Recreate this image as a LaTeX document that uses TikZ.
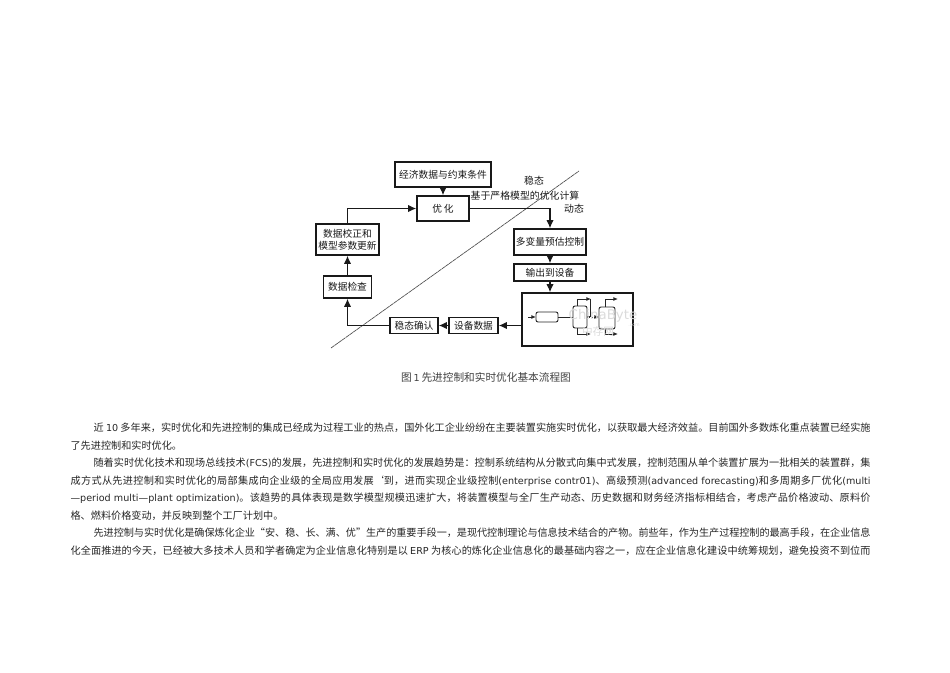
\documentclass[tikz,border=0pt]{standalone}
\usepackage{fontspec}
\usetikzlibrary{arrows.meta}
\setmainfont{Noto Sans CJK SC}
\newfontfamily\latinfont{DejaVu Sans}
\newcommand{\lat}[1]{{\latinfont\fontsize{7.2}{9}\selectfont #1}}
\newcommand{\fullpar}[1]{\parfillskip=0pt #1\par}
\XeTeXlinebreaklocale "zh"
\XeTeXlinebreakskip=0pt plus 2pt minus 0.15pt
\begin{document}
\begin{tikzpicture}[x=0.75pt, y=-0.75pt, line width=0.9pt,
    box/.style={draw=black!90, line width=1.2pt, inner sep=0, align=center, font=\fontsize{7.3}{9}\selectfont\color{black!90}},
    sized/.style 2 args={minimum width=#1*0.75pt, minimum height=#2*0.75pt},
    conn/.style={draw=black!90, -{Latex[length=6pt,width=5.5pt]}},
    plant line/.style={draw=black!85, line width=0.7pt},
    small tip/.style={-{Latex[length=3.5pt,width=3pt]}},
    state label/.style={inner sep=0, font=\fontsize{7.4}{9}\selectfont\color{black!90}},
    full line/.style={anchor=west, inner sep=0, text width=800*0.75pt, align=justify, font=\fontsize{7.6}{10}\selectfont\color{black!85}},
    first line/.style={full line, text width=777*0.75pt},
    short line/.style={anchor=west, inner sep=0, font=\fontsize{7.6}{10}\selectfont\color{black!85}},
    mark text/.style={inner sep=0, text=black!14}
  ]
  \useasboundingbox (0,0) rectangle (950,672);

  \path [draw=black!70, line width=0.5pt, dash pattern=on 3pt off 0.4pt] (331,348) coordinate (dl) -- (579,171) coordinate (dr);

  \node [box, sized={96}{25}] (econ) at (443,174.5) {经济数据与约束条件};
  \node [box, sized={52}{25}] (opt) at (443,208.5) {优\,化};
  \node [box, sized={63}{31}] (rectify) at (347.5,239.5) {数据校正和\\模型参数更新};
  \node [box, sized={48}{22}] (check) at (347.5,287) {数据检查};
  \node [box, sized={48}{16}] (confirm) at (414,325.5) {稳态确认};
  \node [box, sized={49}{16}] (data) at (473.5,325.5) {设备数据};
  \node [box, sized={72}{26}] (mpc) at (550,242) {多变量预估控制};
  \node [box, sized={72}{17}] (output) at (550,272.5) {输出到设备};
  \node [box, sized={111}{53}] (plant) at (577.5,319.5) {};

  \node [state label] (steady) at (534,181) {稳态};
  \node [state label] (calc) at (525,196) {基于严格模型的优化计算};
  \node [state label] (dynamic) at (574,209) {动态};

  \path [conn] (econ) -- (opt);
  \path [conn] (opt) -| (mpc);
  \path [conn] (rectify) |- (opt);
  \path [conn] (check) -- (rectify);
  \path [conn] (confirm) -| (check);
  \path [conn] (data) -- (confirm);
  \path [conn] (plant.west |- data) -- (data);
  \path [conn] (mpc) -- (output);
  \path [conn] (output) -- (output |- plant.north);

  \begin{scope}[every path/.style={plant line}]
    \path [small tip] (528,317) -- (536,317);
    \path [rounded corners=1.5pt] (536,312) rectangle (558,322);
    \path (558,317) -- (573,317);
    \path [rounded corners=1.5pt] (573,306) rectangle (587,328);
    \path [rounded corners=1.5pt] (599,307) rectangle (615,329);
    \path [small tip] (577,306) |- (591,299);
    \path [small tip] (577,328) |- (591,334);
    \path (587,316) -- (590,316) -- (590,299);
    \path [small tip, densely dotted] (587,317) -- (599,317);
    \path [small tip] (605,307) |- (618,299);
    \path [small tip] (605,329) |- (618,334);
  \end{scope}

  \node [mark text, font=\latinfont\fontsize{10}{12}\selectfont] (mark) at (603,316) {ChinaByte};
  \node [mark text, font=\fontsize{8}{10}\selectfont] (markcn) at (598,331) {中存网};
  \node [mark text, font=\latinfont\fontsize{3.5}{4}\selectfont] (markcom) at (634,325) {.com};

  \node [inner sep=0, font=\fontsize{8}{10}\selectfont\color{black!75}] (caption) at (486,377) {图\,\lat{1}\,先进控制和实时优化基本流程图};

  \node [first line] (l1) at (93,428) {\fullpar{近 \lat{10} 多年来，实时优化和先进控制的集成已经成为过程工业的热点，国外化工企业纷纷在主要装置实施实时优化，以获取最大经济效益。目前国外多数炼化重点装置已经实施}};
  \node [short line] (l2) at (70,446) {了先进控制和实时优化。};
  \node [first line] (l3) at (93,463) {\fullpar{随着实时优化技术和现场总线技术\lat{(FCS)}的发展，先进控制和实时优化的发展趋势是：控制系统结构从分散式向集中式发展，控制范围从单个装置扩展为一批相关的装置群，集}};
  \node [full line] (l4) at (70,481) {\fullpar{成方式从先进控制和实时优化的局部集成向企业级的全局应用发展‘到，进而实现企业级控制\lat{(enterprise contr01)}、高级预测\lat{(advanced forecasting)}和多周期多厂优化\lat{(multi}}};
  \node [full line] (l5) at (70,498) {\fullpar{\lat{—period multi—plant optimization)}。该趋势的具体表现是数学模型规模迅速扩大，将装置模型与全厂生产动态、历史数据和财务经济指标相结合，考虑产品价格波动、原料价}};
  \node [short line] (l6) at (70,516) {格、燃料价格变动，并反映到整个工厂计划中。};
  \node [first line] (l7) at (93,533) {\fullpar{先进控制与实时优化是确保炼化企业“安、稳、长、满、优”生产的重要手段一，是现代控制理论与信息技术结合的产物。前些年，作为生产过程控制的最高手段，在企业信息}};
  \node [full line] (l8) at (70,551) {\fullpar{化全面推进的今天，已经被大多技术人员和学者确定为企业信息化特别是以 \lat{ERP} 为核心的炼化企业信息化的最基础内容之一，应在企业信息化建设中统筹规划，避免投资不到位而}};
\end{tikzpicture}
\end{document}
